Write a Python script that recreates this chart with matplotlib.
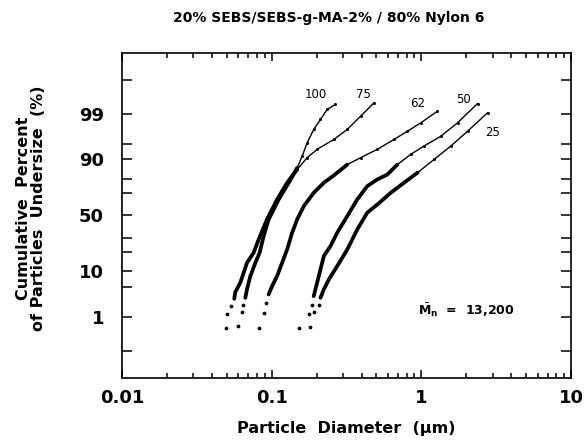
import math
import numpy as np
import matplotlib
matplotlib.use('Agg')
import matplotlib.pyplot as plt
from matplotlib.ticker import FixedLocator, NullLocator, FixedFormatter

# Datos (diametro en um, porcentaje acumulado)
d100 = [0.0592, 0.0634, 0.0643, 0.0667, 0.0684, 0.0720, 0.0778, 0.0831, 0.0884, 0.0955,
        0.1114, 0.130, 0.148, 0.160, 0.1727, 0.191, 0.212, 0.235, 0.267]
p100 = [0.565, 1.35, 2.08, 2.98, 4.52, 8.24, 13.96, 19.7, 31.8, 46.4,
        64.3, 77.3, 86.2, 91.3, 95.2, 97.55, 98.6, 99.24, 99.45]

d75 = [0.0497, 0.0502, 0.0535, 0.0562, 0.0571, 0.0617, 0.0684, 0.0758, 0.0818, 0.0931,
       0.1087, 0.1268, 0.148, 0.1727, 0.2014, 0.260, 0.320, 0.393, 0.482]
p75 = [0.51, 1.18, 1.90, 2.83, 3.96, 6.18, 13.96, 19.7, 29.1, 46.4,
       64.3, 77.3, 85.4, 90.7, 93.5, 95.9, 97.55, 98.85, 99.50]

d62 = [0.0818, 0.0884, 0.0921, 0.0955, 0.1006, 0.1087, 0.1174, 0.1268, 0.137, 0.148,
       0.1638, 0.191, 0.223, 0.260, 0.320, 0.393, 0.508, 0.656, 0.807, 0.991, 1.282]
p62 = [0.51, 1.25, 2.29, 3.53, 5.28, 8.24, 13.96, 21.8, 34.6, 46.4,
       58.4, 69.8, 77.3, 82.0, 87.8, 90.7, 93.5, 95.9, 97.3, 98.3, 99.15]

d50 = [0.1517, 0.177, 0.1865, 0.191, 0.196, 0.2065, 0.223, 0.247, 0.274, 0.320,
       0.373, 0.435, 0.508, 0.593, 0.692, 0.849, 1.042, 1.349, 1.745, 2.375]
p50 = [0.51, 1.18, 2.08, 3.24, 4.52, 8.24, 17.6, 24.1, 34.6, 49.4,
       64.3, 74.9, 79.5, 82.6, 87.8, 91.9, 94.4, 96.5, 98.3, 99.48]

d25 = [0.1817, 0.191, 0.2065, 0.212, 0.223, 0.241, 0.274, 0.320, 0.373, 0.435,
       0.508, 0.624, 0.766, 0.942, 1.216, 1.574, 2.036, 2.77]
p25 = [0.54, 1.35, 2.08, 2.98, 4.52, 7.15, 12.3, 21.8, 37.4, 52.5,
       59.9, 69.8, 77.3, 83.6, 90.0, 94.4, 97.3, 99.06]

curvas = [("100", d100, p100, 0.196, 99.72),
          ("75", d75, p75, 0.411, 99.72),
          ("62", d62, p62, 0.946, 99.48),
          ("50", d50, p50, 1.92, 99.60),
          ("25", d25, p25, 3.01, 97.12)]

yticks = [0.1, 1, 5, 10, 20, 30, 50, 70, 80, 90, 95, 99, 99.9]
ylabels = ['', '1', '', '10', '', '', '50', '', '', '90', '', '99', '']

# Escala de probabilidad normal
_erf = np.vectorize(math.erf)


def ppf(q):
    q = np.clip(np.asarray(q, dtype=float), 1e-12, 1 - 1e-12)
    a = [-3.969683028665376e+01, 2.209460984245205e+02, -2.759285104469687e+02,
         1.383577518672690e+02, -3.066479806614716e+01, 2.506628277459239e+00]
    b = [-5.447609879822406e+01, 1.615858368580409e+02, -1.556989798598866e+02,
         6.680131188771972e+01, -1.328068155288572e+01]
    c = [-7.784894002430293e-03, -3.223964580411365e-01, -2.400758277161838e+00,
         -2.549732539343734e+00, 4.374664141464968e+00, 2.938163982698783e+00]
    dd = [7.784695709041462e-03, 3.224671290700398e-01, 2.445134137142996e+00,
          3.754408661907416e+00]
    plow = 0.02425
    z = np.zeros_like(q)
    lo = q < plow
    hi = q > 1 - plow
    mid = ~(lo | hi)
    if np.any(lo):
        t = np.sqrt(-2 * np.log(q[lo]))
        z[lo] = (((((c[0]*t+c[1])*t+c[2])*t+c[3])*t+c[4])*t+c[5]) / \
                ((((dd[0]*t+dd[1])*t+dd[2])*t+dd[3])*t+1)
    if np.any(hi):
        t = np.sqrt(-2 * np.log(1 - q[hi]))
        z[hi] = -(((((c[0]*t+c[1])*t+c[2])*t+c[3])*t+c[4])*t+c[5]) / \
                 ((((dd[0]*t+dd[1])*t+dd[2])*t+dd[3])*t+1)
    if np.any(mid):
        s = q[mid] - 0.5
        r = s * s
        z[mid] = (((((a[0]*r+a[1])*r+a[2])*r+a[3])*r+a[4])*r+a[5]) * s / \
                 (((((b[0]*r+b[1])*r+b[2])*r+b[3])*r+b[4])*r+1)
    return z


def fwd(p):
    return ppf(np.asarray(p, dtype=float) / 100.0)


def inv(z):
    z = np.asarray(z, dtype=float)
    return 50.0 * (1 + _erf(z / math.sqrt(2)))


plt.rcParams['font.family'] = ['DejaVu Sans']

fig = plt.figure(figsize=(5.84, 4.46), dpi=100)
ax = fig.add_axes([0.2089, 0.1525, 0.7688, 0.7287])

for nombre, d, p, lx, ly in curvas:
    d = np.array(d)
    p = np.array(p)
    arriba = p > 2.5
    # tramo de ajuste (linea fina) y zona densa de puntos (trazo grueso)
    ax.plot(d[arriba], p[arriba], '-', color='black', lw=1.0)
    m = arriba & (p < 88)
    ax.plot(d[m], p[m], '-', color='black', lw=2.7, solid_capstyle='round')
    # puntos sueltos abajo y algunos arriba
    ax.plot(d[~arriba], p[~arriba], 'o', color='black', ms=2.7, mew=0)
    ax.plot(d[p >= 88], p[p >= 88], 'o', color='black', ms=2.2, mew=0)
    ax.text(lx, ly, nombre, fontsize=8.5, ha='center', va='center')

ax.set_xscale('log')
ax.set_yscale('function', functions=(fwd, inv))
ax.set_xlim(0.01, 10)
ax.set_ylim(0.01, 99.99)

ax.yaxis.set_major_locator(FixedLocator(yticks))
ax.yaxis.set_major_formatter(FixedFormatter(ylabels))
ax.yaxis.set_minor_locator(NullLocator())
ax.set_xticks([0.01, 0.1, 1, 10])
ax.set_xticklabels(['0.01', '0.1', '1', '10'])

ax.tick_params(which='both', direction='in', top=True, right=True, width=1.1)
ax.tick_params(axis='y', which='major', length=7, pad=13)
ax.tick_params(axis='x', which='major', length=6, pad=8)
ax.tick_params(axis='x', which='minor', length=3.5)
for lab in ax.get_xticklabels() + ax.get_yticklabels():
    lab.set_fontsize(13)
    lab.set_fontweight('bold')
for s in ax.spines.values():
    s.set_linewidth(1.2)

ax.set_xlabel('Particle  Diameter  (\u03bcm)', fontsize=11.5, fontweight='bold', labelpad=10)
fig.text(0.053, 0.534, 'Cumulative  Percent\nof Particles  Undersize  (%)', rotation=90,
         ha='center', va='center', fontsize=11.5, fontweight='bold', linespacing=1.05)

ax.text(0.946, 1.49, r'$\bar{\mathbf{M}}_{\mathbf{n}}$  =  13,200', fontsize=9,
        fontweight='bold', ha='left', va='center')

fig.text(0.562, 0.96, '20% SEBS/SEBS-g-MA-2% / 80% Nylon 6', ha='center', va='center',
         fontsize=10, fontweight='bold')

fig.savefig('out.png', dpi=100)
